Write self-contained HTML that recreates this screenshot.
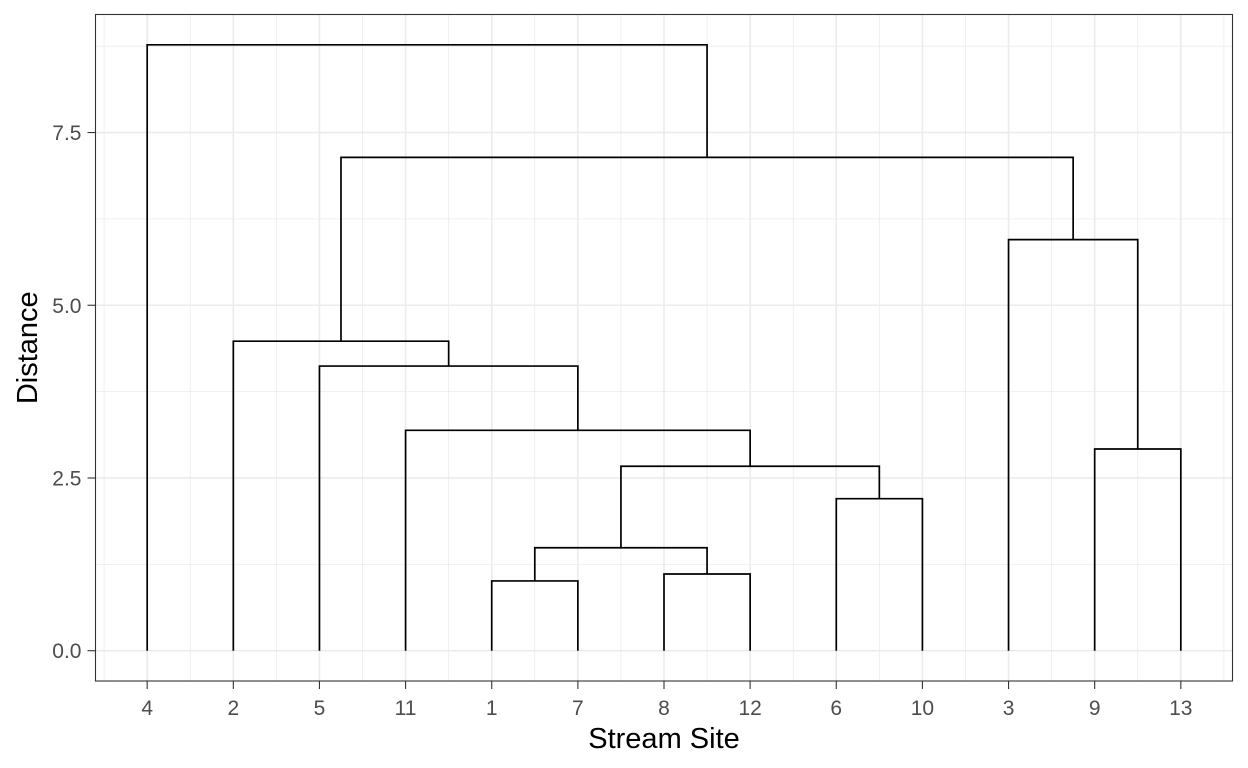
<!DOCTYPE html>
<html><head><meta charset="utf-8"><style>
html,body{margin:0;padding:0;background:#fff;}
svg{display:block;font-family:"Liberation Sans",Arial,sans-serif;}
</style></head><body>
<svg id="chart" width="1248" height="768" xmlns="http://www.w3.org/2000/svg"></svg>
<script>
const leafLabels = ["4","2","5","11","1","7","8","12","6","10","3","9","13"];
// merges: negative = leaf position (1-based), positive = merge index (1-based)
const mergeLeft  = [-5, -7, 1, -9, 3, -4, -3, -2, -12, -11, 8, -1];
const mergeRight = [-6, -8, 2, -10, 4, 5, 6, 7, -13, 9, 10, 11];
const mergeHeight = [1.01, 1.11, 1.49, 2.20, 2.67, 3.19, 4.12, 4.48, 2.92, 5.95, 7.14, 8.77];
const yTicks = [0, 2.5, 5, 7.5];
const yTickLabels = ["0.0","2.5","5.0","7.5"];

const NS="http://www.w3.org/2000/svg";
const svg=document.getElementById('chart');
const L=95.5,R=1232.5,T=14.5,B=681;
const n=leafLabels.length;
const xMin=0.4,xMax=n+0.6;
const maxH=Math.max(...mergeHeight);
const yMin=-maxH*0.05,yMax=maxH*1.05;
const xs=v=>L+(v-xMin)/(xMax-xMin)*(R-L);
const ys=v=>B-(v-yMin)/(yMax-yMin)*(B-T);
function el(t,a){const e=document.createElementNS(NS,t);for(const k in a)e.setAttribute(k,a[k]);svg.appendChild(e);return e;}

const bg=el('rect',{x:L,y:T,width:R-L,height:B-T,fill:'#fff'});


for(let i=0;i<=n;i++){const g=el('line',{x1:xs(i+0.5),x2:xs(i+0.5),y1:T,y2:B,stroke:'#ebebeb','stroke-width':0.8});

}
for(let v=-1.25;v<=10;v+=2.5){if(ys(v)<T||ys(v)>B)continue;const g=el('line',{x1:L,x2:R,y1:ys(v),y2:ys(v),stroke:'#ebebeb','stroke-width':0.8});

}
for(let i=1;i<=n;i++){const g=el('line',{x1:xs(i),x2:xs(i),y1:T,y2:B,stroke:'#ebebeb','stroke-width':1.6});

}
yTicks.forEach(v=>{const g=el('line',{x1:L,x2:R,y1:ys(v),y2:ys(v),stroke:'#ebebeb','stroke-width':1.6});

});

const nodeX=[];
function pos(c){return c<0?[xs(-c),ys(0)]:[nodeX[c-1],ys(mergeHeight[c-1])];}
for(let m=0;m<mergeLeft.length;m++){
  const [lx,ly]=pos(mergeLeft[m]);const [rx,ry]=pos(mergeRight[m]);
  const hy=ys(mergeHeight[m]);
  nodeX[m]=(lx+rx)/2;
  const p=el('path',{d:`M${lx},${ly}V${hy}H${rx}V${ry}`,fill:'none',stroke:'#000','stroke-width':1.7});
  
  
}
const border=el('rect',{x:L,y:T,width:R-L,height:B-T,fill:'none',stroke:'#333','stroke-width':1.1});



yTicks.forEach((v,i)=>{
  const t=el('line',{x1:L-8,x2:L,y1:ys(v),y2:ys(v),stroke:'#333','stroke-width':1.1});
  
  
  const tx=el('text',{x:L-14,y:ys(v)+7.5,'text-anchor':'end','font-size':21,fill:'#4d4d4d'});
  tx.textContent=yTickLabels[i];
  
  
});
leafLabels.forEach((lab,i)=>{
  const x=xs(i+1);
  const t=el('line',{x1:x,x2:x,y1:B,y2:B+8,stroke:'#333','stroke-width':1.1});
  
  
  const tx=el('text',{x:x,y:715,'text-anchor':'middle','font-size':21,fill:'#4d4d4d'});
  tx.textContent=lab;
  
  
});
const xt=el('text',{x:(L+R)/2,y:748,'text-anchor':'middle','font-size':29,fill:'#000'});
xt.textContent='Stream Site';


const yt=el('text',{x:0,y:0,'text-anchor':'middle','font-size':29,fill:'#000',transform:`translate(37,${(T+B)/2}) rotate(-90)`});
yt.textContent='Distance';


</script>
</body></html>
